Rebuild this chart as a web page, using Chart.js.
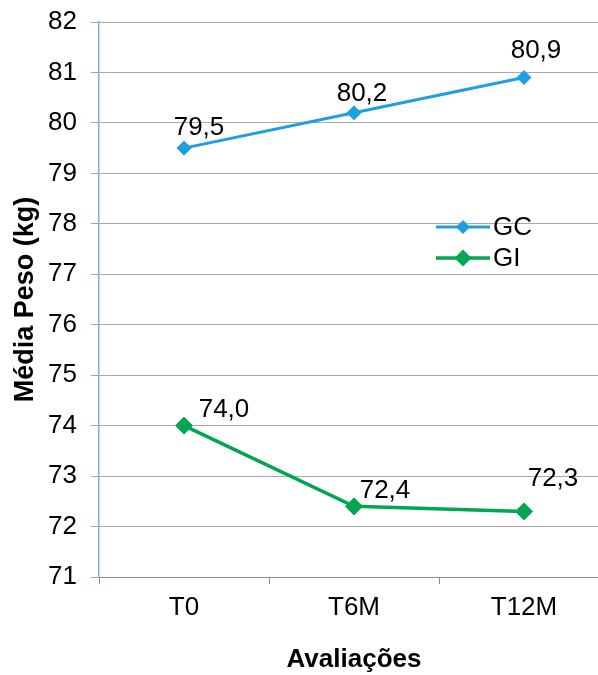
<!DOCTYPE html>
<html lang="pt">
<head>
<meta charset="utf-8">
<title>Média Peso (kg)</title>
<script src="https://cdn.jsdelivr.net/npm/chart.js@4.4.1/dist/chart.umd.min.js"></script>
<style>
  html, body { margin: 0; padding: 0; background: #ffffff; overflow: hidden; }
  #chart { display: block; }
</style>
</head>
<body>
<canvas id="chart" width="610" height="675"></canvas>
<script>
// Evaluation moments and mean body weight (kg) per group
const categories = ['T0', 'T6M', 'T12M'];
const seriesNames = ['GC', 'GI'];
const gcValues = [79.5, 80.2, 80.9];
const giValues = [74.0, 72.4, 72.3];
const yTicks = [71, 72, 73, 74, 75, 76, 77, 78, 79, 80, 81, 82];

const FONT = "'Liberation Sans', Arial, sans-serif";
const FS = 26;
const BLUE = '#1e9fe0';
const GREEN = '#00a651';

// Label placement around each point (px, relative to the point)
const labelOffsets = [
  [[15, -13], [8, -12], [12, -20]],
  [[40, -9], [31, -8], [29, -25]]
];

const fmt = v => v.toFixed(1).replace('.', ',');

const valueLabels = {
  id: 'valueLabels',
  afterDatasetsDraw(chart) {
    const ctx = chart.ctx;
    ctx.save();
    ctx.font = FS + 'px ' + FONT;
    ctx.fillStyle = '#000000';
    ctx.textAlign = 'center';
    ctx.textBaseline = 'alphabetic';
    chart.data.datasets.forEach((ds, di) => {
      chart.getDatasetMeta(di).data.forEach((pt, i) => {
        const off = labelOffsets[di][i];
        ctx.fillText(fmt(ds.data[i]), pt.x + off[0], pt.y + off[1]);
      });
    });
    ctx.restore();
  }
};

// Legend drawn inside the plot area: line sample with a diamond, then the name
const insideLegend = {
  id: 'insideLegend',
  afterDraw(chart) {
    const ctx = chart.ctx;
    const x0 = 436, x1 = 490, rows = [227, 258];
    ctx.save();
    chart.data.datasets.forEach((ds, di) => {
      const y = rows[di];
      ctx.strokeStyle = ds.borderColor;
      ctx.lineWidth = ds.borderWidth;
      ctx.beginPath();
      ctx.moveTo(x0, y);
      ctx.lineTo(x1, y);
      ctx.stroke();
      const r = ds.pointRadius;
      const cx = (x0 + x1) / 2;
      ctx.fillStyle = ds.borderColor;
      ctx.beginPath();
      ctx.moveTo(cx - r, y);
      ctx.lineTo(cx, y - r);
      ctx.lineTo(cx + r, y);
      ctx.lineTo(cx, y + r);
      ctx.closePath();
      ctx.fill();
      ctx.fillStyle = '#000000';
      ctx.font = FS + 'px ' + FONT;
      ctx.textAlign = 'left';
      ctx.textBaseline = 'middle';
      ctx.fillText(ds.label, x1 + 3, y + 1);
    });
    ctx.restore();
  }
};

new Chart(document.getElementById('chart'), {
  type: 'line',
  data: {
    labels: categories,
    datasets: [
      {
        label: seriesNames[0],
        data: gcValues,
        borderColor: BLUE,
        backgroundColor: BLUE,
        borderWidth: 3,
        pointStyle: 'rectRot',
        pointRadius: 7,
        pointBorderWidth: 1,
        tension: 0
      },
      {
        label: seriesNames[1],
        data: giValues,
        borderColor: GREEN,
        backgroundColor: GREEN,
        borderWidth: 3.5,
        pointStyle: 'rectRot',
        pointRadius: 8.5,
        pointBorderWidth: 1,
        tension: 0
      }
    ]
  },
  options: {
    responsive: false,
    maintainAspectRatio: false,
    animation: false,
    devicePixelRatio: 1,
    layout: { autoPadding: false, padding: { top: 22, right: 1, bottom: 0, left: 0 } },
    plugins: {
      legend: { display: false },
      tooltip: { enabled: false }
    },
    scales: {
      x: {
        type: 'category',
        offset: true,
        afterFit(scale) {
          scale.height = 98;
          scale.paddingLeft = 0;
          scale.paddingRight = 0;
        },
        grid: {
          offset: true,
          drawOnChartArea: false,
          drawTicks: true,
          tickLength: 7,
          tickColor: '#8c8c8c'
        },
        border: { color: '#8c8c8c', width: 1 },
        ticks: {
          color: '#000000',
          font: { family: FONT, size: FS },
          padding: 8,
          maxRotation: 0
        },
        title: {
          display: true,
          text: 'Avaliações',
          color: '#000000',
          font: { family: FONT, size: FS, weight: 'bold' },
          padding: { top: 0, bottom: 0 }
        }
      },
      y: {
        min: yTicks[0],
        max: yTicks[yTicks.length - 1],
        afterFit(scale) {
          scale.width = 99;
          scale.paddingTop = 0;
          scale.paddingBottom = 0;
        },
        afterBuildTicks(scale) { scale.ticks = yTicks.map(v => ({ value: v })); },
        grid: {
          color: '#a9a9a9',
          lineWidth: 1,
          tickLength: 8,
          tickColor: '#86acd9'
        },
        border: { color: '#86acd9', width: 1.5 },
        ticks: {
          color: '#000000',
          font: { family: FONT, size: FS },
          padding: 14,
          callback: v => String(v)
        },
        title: {
          display: true,
          text: 'Média Peso (kg)',
          color: '#000000',
          font: { family: FONT, size: 27, weight: 'bold' },
          padding: { top: 9, bottom: 0 }
        }
      }
    }
  },
  plugins: [valueLabels, insideLegend]
});
</script>
</body>
</html>
